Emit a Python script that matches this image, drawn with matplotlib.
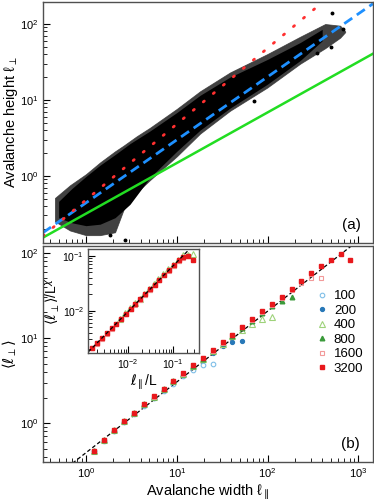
import numpy as np
import matplotlib
matplotlib.use('Agg')
import matplotlib.pyplot as plt

plt.rcParams['font.family'] = ['Liberation Sans', 'DejaVu Sans']
plt.rcParams['mathtext.fontset'] = 'dejavusans'

cloud_x = [0.455, 0.667, 1.0, 1.43, 2.09, 2.6, 3.6, 5.08, 10, 18.1, 38.7, 99, 229, 432, 631, 717]
cloud_hi = [0.51, 0.75, 1.05, 1.5, 2.1, 2.5, 3.3, 4.3, 7.6, 13, 23, 40, 68, 100, 95, 80]
cloud_lo = [0.25, 0.19, 0.165, 0.165, 0.18, 0.36, 0.6, 0.88, 1.8, 3.6, 7.2, 14.5, 30, 48, 66, 78]
core_x = [0.5, 0.7, 1.0, 1.43, 2.09, 3.05, 5.08, 10, 18.1, 38.7, 99, 229, 400]
core_hi = [0.46, 0.68, 0.98, 1.38, 1.9, 2.65, 3.9, 6.8, 11.5, 20, 34, 57, 85]
core_lo = [0.28, 0.24, 0.22, 0.23, 0.28, 0.42, 0.95, 2.1, 4.0, 7.8, 16, 33, 60]
stray_x = [512, 687, 499, 350, 71.7, 2.69, 1.84]
stray_y = [138, 85.2, 50.3, 41.1, 9.8, 0.144, 0.167]

# guide lines in (a): prefactor, exponent
fit_red = (0.48, 1.0)
fit_blue = (0.44, 0.83)
fit_green = (0.317, 2 / 3)

# ---- panel (b): binned mean height per system size ----
w_bins = [1.235, 1.59, 2.05, 2.64, 3.41, 4.39, 5.66, 7.30, 9.17, 11.8, 15.2, 19.6, 24.9, 32.1,
          41.0, 52.9, 67.6, 87.2, 112, 144, 185, 236, 305, 390, 502, 643, 820]
h_100 = [0.47, 0.62, 0.80, 1.02, 1.28, 1.6, 1.96, 2.4, 2.92, 3.55, 4.2, 4.85, 4.94]
h_200 = [0.47, 0.63, 0.81, 1.04, 1.3, 1.64, 2.0, 2.46, 3.05, 3.7, 4.6, 5.55, 6.6, 7.95, 8.87, 9.27]
h_400 = [0.47, 0.63, 0.82, 1.05, 1.31, 1.66, 2.03, 2.5, 3.1, 3.75, 4.7, 5.7, 7.0, 8.6, 10.6,
         12.5, 14.7, 16.5, 17.8]
h_800 = [0.47, 0.63, 0.82, 1.05, 1.31, 1.66, 2.03, 2.5, 3.1, 3.78, 4.72, 5.72, 7.05, 8.7, 10.6,
         13.2, 16.0, 19.8, 23.5, 27.4, 30.4]
h_1600 = [0.47, 0.63, 0.82, 1.05, 1.32, 1.67, 2.04, 2.5, 3.1, 3.78, 4.75, 5.75, 7.1, 8.75, 10.7,
          13.3, 16.2, 20.2, 24.3, 29.8, 36.5, 43.8, 50.8, 49.9]
h_3200 = [0.476, 0.636, 0.827, 1.064, 1.33, 1.686, 2.06, 2.53, 3.15, 3.83, 4.81, 5.82, 7.22, 8.87,
          10.9, 13.6, 16.5, 20.6, 24.9, 30.6, 37.7, 46.3, 57.1, 69.5, 82.8, 95.5, 82.8]
fit_b = (0.45, 0.83)

# ---- inset: rescaled collapse ----
ins_x = [0.00161, 0.00206, 0.00263, 0.00336, 0.0043, 0.0055, 0.00702, 0.00898, 0.01147, 0.01466,
         0.01874, 0.02395, 0.0306, 0.0391, 0.050, 0.0639, 0.0816, 0.1043, 0.1333, 0.17, 0.218, 0.28]
ins_3200 = [0.00211, 0.00259, 0.00317, 0.00389, 0.00477, 0.00584, 0.00716, 0.00878, 0.01076,
            0.01319, 0.01617, 0.01982, 0.0243, 0.0298, 0.0365, 0.0448, 0.0549, 0.0673, 0.0825,
            0.094, 0.099, 0.085]
ins_1600 = [0.00206, 0.00252, 0.00309, 0.00379, 0.00465, 0.0057, 0.00698, 0.00856, 0.0105,
            0.01286, 0.0158, 0.0193, 0.0237, 0.029, 0.0356, 0.0437, 0.0535, 0.0656, 0.0804, 0.092]
ins400_x = [0.0066, 0.0085, 0.011, 0.014, 0.018, 0.023, 0.029, 0.037, 0.047, 0.061, 0.078, 0.1,
            0.128, 0.165, 0.21, 0.28]
ins400_y = [0.0072, 0.0089, 0.011, 0.0135, 0.0166, 0.0204, 0.0247, 0.0302, 0.0369, 0.0458, 0.0562,
            0.069, 0.0847, 0.102, 0.104, 0.106]
fit_ins = (0.44, 0.83)

sizes = ['100', '200', '400', '800', '1600', '3200']
series = [h_100, h_200, h_400, h_800, h_1600, h_3200]
styles = [dict(marker='o', mfc='none', mec='#7fbfe8', ms=3.3, mew=0.8),
          dict(marker='o', mfc='#2878b8', mec='#2878b8', ms=2.8),
          dict(marker='^', mfc='none', mec='#9ed27a', ms=3.8, mew=0.8),
          dict(marker='^', mfc='#3a9a3a', mec='#3a9a3a', ms=3.3),
          dict(marker='s', mfc='none', mec='#f29a9a', ms=3.3, mew=0.8),
          dict(marker='s', mfc='#e8181c', mec='#e8181c', ms=3.3)]

W, H = 374, 504
fig = plt.figure(figsize=(W / 100, H / 100), dpi=100)


def box(l, t, r, b):
    return [l / W, 1 - b / H, (r - l) / W, (b - t) / H]


def style_axes(ax, fs=8):
    ax.set_xscale('log')
    ax.set_yscale('log')
    ax.tick_params(which='both', direction='in', top=False, right=False, labelsize=fs, pad=3)
    ax.tick_params(which='major', length=5, width=0.8)
    ax.tick_params(which='minor', length=3, width=0.6)
    for s in ax.spines.values():
        s.set_color('#505050')
        s.set_linewidth(1.0)


xlim = (0.336, 1452)
gx = np.array([xlim[0], xlim[1]])

ax_a = fig.add_axes(box(43, 2, 373, 243))
style_axes(ax_a)
ax_a.fill_between(cloud_x, cloud_lo, cloud_hi, color='#111111', alpha=0.8, lw=0.6,
                  edgecolor='#333333')
ax_a.fill_between(core_x, core_lo, core_hi, color='black', lw=0)
ax_a.plot(stray_x, stray_y, 'o', color='black', ms=1.8, ls='none')
ax_a.plot(gx, fit_green[0] * gx ** fit_green[1], color='#22dd22', lw=1.8)
ax_a.plot(gx, fit_blue[0] * gx ** fit_blue[1], color='#1e90ff', lw=2, dashes=(3.5, 2))
ax_a.plot(gx, fit_red[0] * gx ** fit_red[1], color='#ff3030', lw=2.0, dashes=(0.5, 4.2),
          dash_capstyle='round')
ax_a.set_xlim(*xlim)
ax_a.set_ylim(0.13, 195)
ax_a.tick_params(labelbottom=False)
ax_a.set_ylabel(r'Avalanche height ℓ$_{\perp}$', fontsize=10.5, labelpad=0)
ax_a.text(0.936, 0.075, '(a)', transform=ax_a.transAxes, fontsize=11, ha='center', va='center')

ax_b = fig.add_axes(box(43, 246, 373, 462))
style_axes(ax_b)
ax_b.plot(gx, fit_b[0] * gx ** fit_b[1], color='black', lw=0.9, dashes=(3, 2))
for lab, h, st in zip(sizes, series, styles):
    ax_b.plot(w_bins[:len(h)], h, ls='none', label=lab, **st)
ax_b.set_xlim(*xlim)
ax_b.set_ylim(0.35, 120)
ax_b.set_xlabel(r'Avalanche width ℓ$_{\parallel}$', fontsize=10.5, labelpad=2)
ax_b.set_ylabel(r'$\langle\ell_{\perp}\rangle$', fontsize=10.5, labelpad=1)
ax_b.text(0.93, 0.083, '(b)', transform=ax_b.transAxes, fontsize=11, ha='center', va='center')
ax_b.legend(loc='upper left', bbox_to_anchor=(318 / W, 1 - 290 / H), bbox_transform=fig.transFigure,
            frameon=False, fontsize=9.5, handlelength=0.6, handletextpad=0.6, labelspacing=0.17,
            borderpad=0, borderaxespad=0)

ax_i = fig.add_axes(box(88.3, 249, 199.3, 353))
style_axes(ax_i, fs=7.5)
ix = np.array([0.00131, 0.3])
ax_i.plot(ins400_x, ins400_y, ls='none', **styles[2])
ax_i.plot(ins_x[:len(ins_1600)], ins_1600, ls='none', **styles[4])
ax_i.plot(ins_x, ins_3200, ls='none', **styles[5])
ax_i.plot(ix, fit_ins[0] * ix ** fit_ins[1], color='black', lw=0.9, dashes=(3, 2))
ax_i.set_xlim(0.00131, 0.384)
ax_i.set_ylim(0.0017, 0.132)
ax_i.set_xlabel(r'$\ell_{\parallel}$/L', fontsize=10, labelpad=1)
ax_i.set_ylabel(r'$\langle\ell_{\perp}\rangle$/L$^{\chi}$', fontsize=10, labelpad=0)

fig.savefig('out.png', dpi=100)
